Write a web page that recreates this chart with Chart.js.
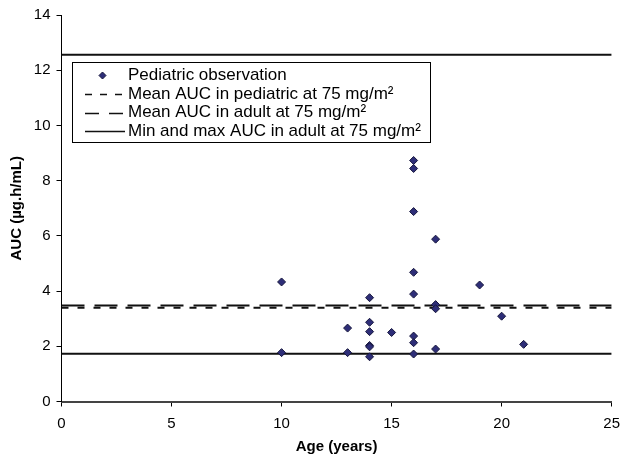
<!DOCTYPE html>
<html lang="en">
  <head>
    <meta charset="UTF-8" />
    <title>AUC by age</title>
    <script src="https://cdn.jsdelivr.net/npm/chart.js"></script>
    <style>
      body {
        margin: 0;
        background: #fff;
      }
      #wrap {
        width: 628px;
        height: 458px;
      }
    </style>
  </head>
  <body>
    <div id="wrap"><canvas id="aucChart" width="628" height="458"></canvas></div>

    <script>
      const ages = [10, 10, 13, 13, 14, 14, 14, 14, 14, 14, 15, 16, 16, 16, 16, 16, 16, 16, 16, 17, 17, 17, 17, 19, 20, 21];
      const aucValues = [4.33, 1.77, 2.66, 1.77, 3.76, 2.87, 2.53, 2.03, 1.98, 1.62, 2.5, 8.73, 8.44, 6.88, 4.68, 3.89, 2.37, 2.13, 1.72, 5.88, 3.51, 3.36, 1.9, 4.22, 3.09, 2.07];

      // reference lines
      const xRange = [0, 25];
      const meanPediatric = 3.4;
      const meanAdult = 3.48;
      const adultMinMax = [1.73, 12.56];

      const seriesLabels = [
        "Pediatric observation",
        "Mean AUC in pediatric at 75 mg/m²",
        "Mean AUC in adult at 75 mg/m²",
        "Min and max AUC in adult at 75 mg/m²",
      ];

      const xTitle = "Age (years)";
      const yTitle = "AUC (µg.h/mL)";

      Chart.defaults.font.family = "'Liberation Sans', Arial, sans-serif";
      Chart.defaults.color = "#000";

      const points = ages.map((a, i) => ({ x: a, y: aucValues[i] }));
      const flatLine = (v) => xRange.map((x) => ({ x: x, y: v }));
      const minMaxLine = flatLine(adultMinMax[0])
        .concat([{ x: xRange[1], y: null }])
        .concat(flatLine(adultMinMax[1]));

      // legend drawn as a framed box inside the plot, like the original
      const legendDash = [null, [7, 8], [14, 10], []];
      const boxLegend = {
        id: "boxLegend",
        afterDatasetsDraw(chart) {
          const ctx = chart.ctx;
          const left = 72.5, top = 62.5, right = 430.5, bottom = 142.5;
          ctx.save();
          ctx.fillStyle = "#fff";
          ctx.fillRect(left, top, right - left, bottom - top);
          ctx.strokeStyle = "#000";
          ctx.lineWidth = 1;
          ctx.strokeRect(left, top, right - left, bottom - top);

          ctx.font = "17px 'Liberation Sans', Arial, sans-serif";
          ctx.textBaseline = "middle";
          chart.data.datasets.forEach((ds, i) => {
            const y = 75.5 + i * 18.6;
            if (i === 0) {
              ctx.beginPath();
              ctx.moveTo(102.5, y - 3.5);
              ctx.lineTo(106, y);
              ctx.lineTo(102.5, y + 3.5);
              ctx.lineTo(99, y);
              ctx.closePath();
              ctx.fillStyle = ds.backgroundColor;
              ctx.fill();
              ctx.strokeStyle = ds.borderColor;
              ctx.stroke();
            } else {
              ctx.beginPath();
              ctx.setLineDash(legendDash[i]);
              ctx.strokeStyle = ds.borderColor;
              ctx.lineWidth = 1.5;
              ctx.moveTo(85, Math.round(y) + 0.5);
              ctx.lineTo(125, Math.round(y) + 0.5);
              ctx.stroke();
              ctx.setLineDash([]);
              ctx.lineWidth = 1;
            }
            ctx.fillStyle = "#000";
            ctx.fillText(ds.label, 128, y);
          });
          ctx.restore();
        },
      };

      new Chart(document.getElementById("aucChart"), {
        type: "scatter",
        data: {
          datasets: [
            {
              label: seriesLabels[0],
              data: points,
              pointStyle: "rectRot",
              pointRadius: 4,
              backgroundColor: "#2e2e78",
              borderColor: "#16163c",
              borderWidth: 1,
              order: 0,
            },
            {
              label: seriesLabels[1],
              type: "line",
              data: flatLine(meanPediatric),
              borderColor: "#111",
              borderWidth: 2,
              borderDash: [7, 9],
              pointRadius: 0,
              order: 1,
            },
            {
              label: seriesLabels[2],
              type: "line",
              data: flatLine(meanAdult),
              borderColor: "#111",
              borderWidth: 2,
              borderDash: [23, 10],
              pointRadius: 0,
              order: 1,
            },
            {
              label: seriesLabels[3],
              type: "line",
              data: minMaxLine,
              borderColor: "#111",
              borderWidth: 2,
              pointRadius: 0,
              spanGaps: false,
              order: 1,
            },
          ],
        },
        options: {
          responsive: false,
          animation: false,
          layout: { padding: { top: 15, right: 10, left: 0, bottom: 0 } },
          plugins: {
            legend: { display: false },
            tooltip: { enabled: false },
          },
          scales: {
            x: {
              type: "linear",
              min: xRange[0],
              max: xRange[1],
              ticks: { stepSize: 5, font: { size: 15 }, padding: 8 },
              grid: { drawOnChartArea: false, tickLength: 5, color: "#000" },
              border: { color: "#444", width: 2 },
              title: {
                display: true,
                text: xTitle,
                font: { size: 15, weight: "bold" },
                padding: { top: 0, bottom: 2 },
              },
              afterFit(scale) {
                scale.height = 56.5;
              },
            },
            y: {
              min: 0,
              max: 14,
              ticks: { stepSize: 2, font: { size: 15 }, padding: 6 },
              grid: { drawOnChartArea: false, tickLength: 5, color: "#000" },
              border: { color: "#000", width: 1 },
              title: {
                display: true,
                text: yTitle,
                font: { size: 15, weight: "bold" },
                padding: { top: 8, bottom: 0 },
              },
              afterFit(scale) {
                scale.width = 61.5;
              },
            },
          },
        },
        plugins: [boxLegend],
      });
    </script>
  </body>
</html>
